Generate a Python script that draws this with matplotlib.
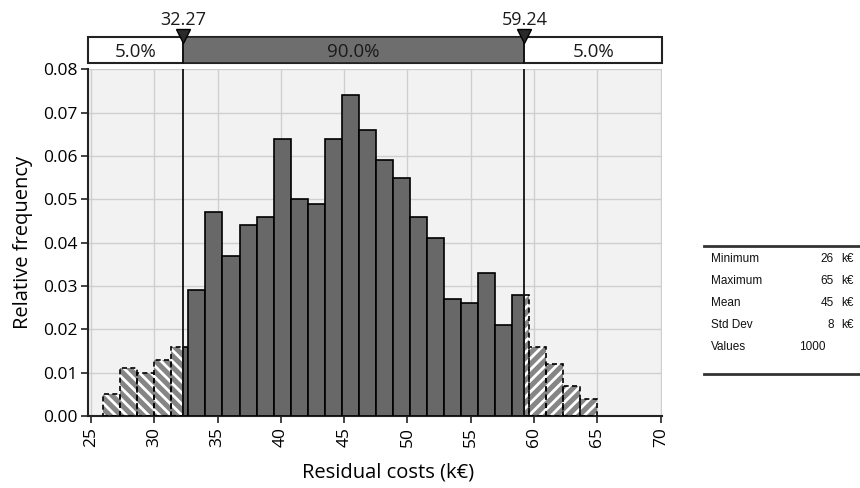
import matplotlib
matplotlib.use("Agg")
import matplotlib.pyplot as plt
from matplotlib.lines import Line2D
from matplotlib.patches import Rectangle

# ---------------- data ----------------
bin_start = 25.97          # left edge of first bin (k€)
bin_width = 1.346          # bin width (k€)
rel_freq = [0.005, 0.011, 0.010, 0.013, 0.016, 0.029, 0.047, 0.037, 0.044, 0.046,
            0.064, 0.050, 0.049, 0.064, 0.074, 0.066, 0.059, 0.055, 0.046, 0.041,
            0.027, 0.026, 0.033, 0.021, 0.028, 0.016, 0.012, 0.007, 0.004]
p_low = 32.27
p_high = 59.24
band_labels = ["5.0%", "90.0%", "5.0%"]
x_ticks = [25, 30, 35, 40, 45, 50, 55, 60, 65, 70]
y_ticks = [0.00, 0.01, 0.02, 0.03, 0.04, 0.05, 0.06, 0.07, 0.08]
stat_names = ["Minimum", "Maximum", "Mean", "Std Dev", "Values"]
stat_values = ["26", "65", "45", "8", "1000"]
stat_units = ["k€", "k€", "k€", "k€", ""]

# ---------------- style ----------------
FONT = ["Open Sans", "DejaVu Sans"]
plt.rcParams["font.family"] = FONT
plt.rcParams["hatch.linewidth"] = 2.0

DARK = "#686868"
HATCH_FACE = "#858585"
BG = "#f2f2f2"
GRID = "#cfcfcf"

fig = plt.figure(figsize=(8.6, 4.88), dpi=100)
ax = fig.add_axes([0.1027, 0.1475, 0.6671, 0.7101])
ax.set_facecolor(BG)
ax.set_xlim(24.8, 70.1)
ax.set_ylim(0, 0.08)
ax.set_xticks(x_ticks)
ax.set_yticks(y_ticks)
ax.set_xticklabels([str(t) for t in x_ticks], rotation=90, fontsize=12.5)
ax.set_yticklabels([f"{t:.2f}" for t in y_ticks], fontsize=12.5)
ax.tick_params(direction="out", length=5, width=1.2, color="#222222", pad=3)
ax.grid(True, color=GRID, linewidth=1.0)
ax.set_axisbelow(True)
for s in ["top", "right"]:
    ax.spines[s].set_visible(False)
for s in ["left", "bottom"]:
    ax.spines[s].set_linewidth(1.5)
    ax.spines[s].set_color("#222222")

ax.set_xlabel("Residual costs (k€)", fontsize=14.5)
ax.set_ylabel("Relative frequency", fontsize=14.5)
ax.xaxis.set_label_coords(0.522, -0.133)
ax.yaxis.set_label_coords(-0.097, 0.5)


def hatched(left, right, h, pattern):
    ax.bar(left, h, width=right - left, align="edge", color=HATCH_FACE,
           edgecolor="white", hatch=pattern, linewidth=0, zorder=2)
    ax.bar(left, h, width=right - left, align="edge", color="none",
           edgecolor="black", linestyle=(0, (3, 2)), linewidth=1.2, zorder=3)


def solid(left, right, h):
    ax.bar(left, h, width=right - left, align="edge", color=DARK,
           edgecolor="black", linewidth=1.2, zorder=3)


for i, h in enumerate(rel_freq):
    l = bin_start + i * bin_width
    r = l + bin_width
    if r <= p_low:
        hatched(l, r, h, "\\\\\\")
    elif l < p_low < r:
        hatched(l, p_low, h, "\\\\\\")
        solid(p_low, r, h)
    elif l >= p_high:
        hatched(l, r, h, "///")
    elif l < p_high < r:
        solid(l, p_high, h)
        hatched(p_high, r, h, "///")
    else:
        solid(l, r, h)

for p in (p_low, p_high):
    ax.axvline(p, color="#111111", linewidth=1.3, zorder=5)

# ---------------- percentile band ----------------
bax = fig.add_axes([0.1027, 0.8709, 0.6671, 0.0533])
bax.set_xlim(ax.get_xlim())
bax.set_ylim(0, 1)
bax.axis("off")
x0, x1 = ax.get_xlim()
bax.add_patch(Rectangle((x0, 0), x1 - x0, 1, facecolor="white", edgecolor="#222222",
                        linewidth=1.5, clip_on=False, zorder=1))
bax.add_patch(Rectangle((p_low, 0), p_high - p_low, 1, facecolor="#6e6e6e",
                        edgecolor="#222222", linewidth=1.2, clip_on=False, zorder=2))
centers = [(x0 + p_low) / 2, (p_low + p_high) / 2, (p_high + x1) / 2]
for c, t in zip(centers, band_labels):
    bax.text(c, 0.42, t, ha="center", va="center", fontsize=13.5, color="#1a1a1a", zorder=4)
for p in (p_low, p_high):
    bax.plot([p, p], [0, 1], color="#111111", linewidth=1.3, clip_on=False, zorder=3)
    bax.plot([p], [1.05], marker="v", markersize=10, color="#2a2a2a",
             markeredgecolor="black", clip_on=False, zorder=5)
    bax.text(p, 1.47, f"{p:.2f}", ha="center", va="baseline", fontsize=13,
             color="#1a1a1a", clip_on=False)

# ---------------- statistics table ----------------
def fy(px):
    return 1 - px / 488.0


def fx(px):
    return px / 860.0


fig.add_artist(Line2D([fx(704), fx(860)], [fy(246), fy(246)], color="#333333", linewidth=2))
fig.add_artist(Line2D([fx(704), fx(860)], [fy(374), fy(374)], color="#333333", linewidth=2))
row_y = [259, 281, 303, 325, 347]
TFONT = ["Liberation Sans", "DejaVu Sans"]
for ry, n, v, u in zip(row_y, stat_names, stat_values, stat_units):
    fig.text(fx(711), fy(ry), n, ha="left", va="center", fontsize=8.5, family=TFONT, color="#111111")
    if u:
        fig.text(fx(834), fy(ry), v, ha="right", va="center", fontsize=8.5, family=TFONT, color="#111111")
        fig.text(fx(841), fy(ry), u, ha="left", va="center", fontsize=8.5, family=TFONT, color="#111111")
    else:
        fig.text(fx(826), fy(ry), v, ha="right", va="center", fontsize=8.5, family=TFONT, color="#111111")

fig.savefig("out.png", dpi=100)
